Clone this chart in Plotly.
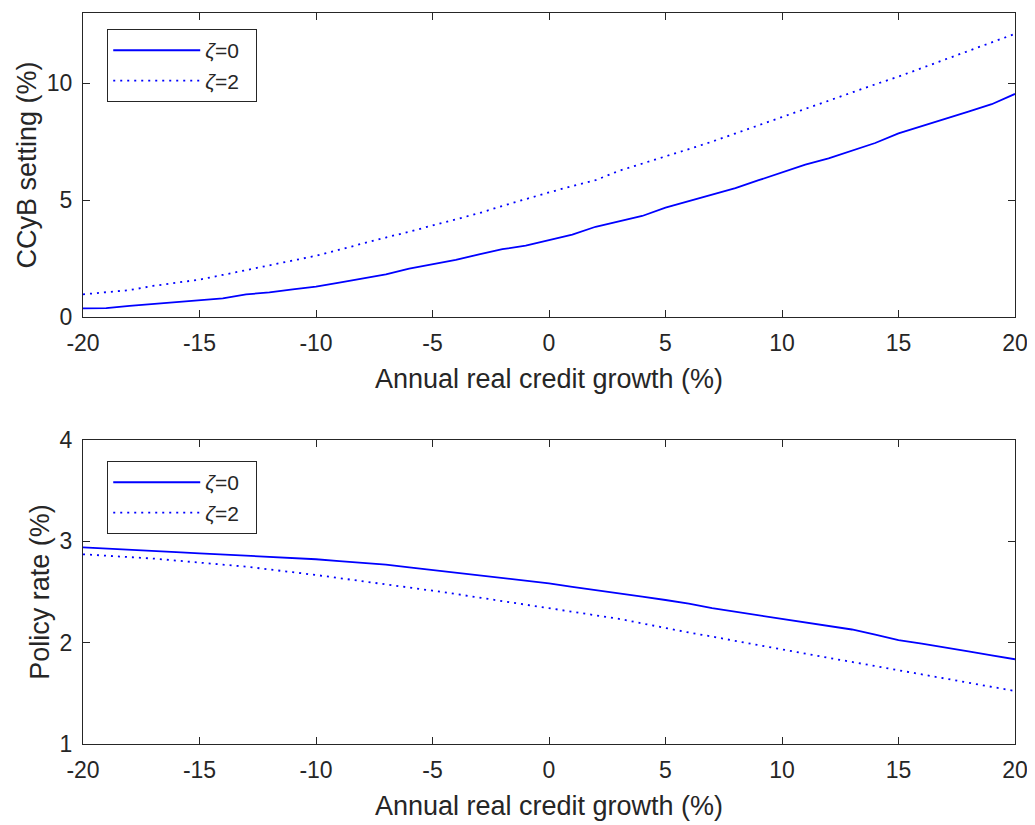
import plotly.graph_objects as go
from plotly.subplots import make_subplots

# ---- data ----
credit_growth = list(range(-20, 21))

ccyb_zeta0 = [0.37, 0.38, 0.48, 0.56, 0.63, 0.70, 0.80, 0.97, 1.05, 1.18,
              1.30, 1.47, 1.65, 1.82, 2.07, 2.24, 2.44, 2.68, 2.90, 3.05,
              3.30, 3.52, 3.86, 4.08, 4.32, 4.68, 4.95, 5.25, 5.51, 5.85,
              6.17, 6.52, 6.78, 7.10, 7.44, 7.85, 8.15, 8.45, 8.78, 9.10, 9.54]
ccyb_zeta2 = [0.97, 1.05, 1.15, 1.33, 1.45, 1.60, 1.80, 2.00, 2.22, 2.40,
              2.62, 2.88, 3.15, 3.40, 3.65, 3.91, 4.18, 4.44, 4.75, 5.05,
              5.33, 5.60, 5.85, 6.25, 6.55, 6.86, 7.18, 7.50, 7.85, 8.20,
              8.57, 8.90, 9.25, 9.60, 9.95, 10.28, 10.65, 11.00, 11.38, 11.75, 12.11]
rate_zeta0 = [2.94, 2.93, 2.92, 2.905, 2.893, 2.882, 2.87, 2.86, 2.85, 2.835,
              2.823, 2.805, 2.788, 2.77, 2.742, 2.717, 2.69, 2.665, 2.64, 2.612,
              2.586, 2.55, 2.52, 2.487, 2.455, 2.421, 2.385, 2.34, 2.305, 2.272,
              2.24, 2.205, 2.168, 2.13, 2.08, 2.026, 1.99, 1.955, 1.915, 1.875, 1.836]
rate_zeta2 = [2.872, 2.86, 2.848, 2.83, 2.81, 2.793, 2.77, 2.75, 2.72, 2.695,
              2.668, 2.638, 2.608, 2.576, 2.545, 2.513, 2.48, 2.445, 2.41, 2.375,
              2.339, 2.30, 2.27, 2.235, 2.19, 2.142, 2.10, 2.06, 2.015, 1.975,
              1.934, 1.89, 1.85, 1.81, 1.77, 1.730, 1.69, 1.647, 1.605, 1.565, 1.523]

series_names = ["<i>ζ</i>=0", "<i>ζ</i>=2"]
x_ticks = [-20, -15, -10, -5, 0, 5, 10, 15, 20]
x_ticklabels = ["-20", "-15", "-10", "-5", "0", "5", "10", "15", "20"]
ccyb_ticks = [0, 5, 10]
rate_ticks = [1, 2, 3, 4]
x_title = "Annual real credit growth (%)"
ccyb_title = "CCyB setting (%)"
rate_title = "Policy rate (%)"

BLUE = "#0000FF"
AX = "#262626"
FONT = "Liberation Sans, Arial, sans-serif"
PAD = "\u00a0\u00a0"  # invisible right padding inside legend box

fig = make_subplots(rows=2, cols=1)

fig.add_trace(go.Scatter(x=credit_growth, y=ccyb_zeta0, mode="lines", name=series_names[0] + PAD,
                         line=dict(color=BLUE, width=1.8), legend="legend"), row=1, col=1)
fig.add_trace(go.Scatter(x=credit_growth, y=ccyb_zeta2, mode="lines", name=series_names[1] + PAD,
                         line=dict(color=BLUE, width=1.8, dash="2px,5px"), legend="legend"), row=1, col=1)
fig.add_trace(go.Scatter(x=credit_growth, y=rate_zeta0, mode="lines", name=series_names[0] + PAD,
                         line=dict(color=BLUE, width=1.8), legend="legend2"), row=2, col=1)
fig.add_trace(go.Scatter(x=credit_growth, y=rate_zeta2, mode="lines", name=series_names[1] + PAD,
                         line=dict(color=BLUE, width=1.8, dash="2px,5px"), legend="legend2"), row=2, col=1)

axis_common = dict(showline=True, linecolor=AX, linewidth=1, mirror="ticks",
                   ticks="inside", ticklen=7, tickcolor=AX, tickwidth=1,
                   showgrid=False, zeroline=False, automargin=False,
                   tickfont=dict(family=FONT, size=23, color=AX))

fig.update_xaxes(**axis_common, range=[-20, 20], tickvals=x_ticks, ticktext=x_ticklabels,
                 ticklabelstandoff=5,
                 title=dict(text=x_title, font=dict(family=FONT, size=27, color=AX), standoff=14))
fig.update_yaxes(**axis_common, ticklabelstandoff=5,
                 title=dict(font=dict(family=FONT, size=27, color=AX), standoff=2))
fig.update_yaxes(range=[0, 13], tickvals=ccyb_ticks, title_text=ccyb_title, row=1, col=1)
fig.update_yaxes(range=[1, 4], tickvals=rate_ticks, title_text=rate_title, row=2, col=1)

fig.update_layout(
    xaxis=dict(domain=[0, 1]),
    xaxis2=dict(domain=[0, 1]),
    yaxis=dict(domain=[0.5841, 1.0]),
    yaxis2=dict(domain=[0.0, 0.4159]),
)

legend_common = dict(bgcolor="white", bordercolor=AX, borderwidth=1,
                     font=dict(family=FONT, size=21, color=AX),
                     xanchor="left", yanchor="top", itemwidth=87,
                     tracegroupgap=0)
fig.update_layout(
    legend=dict(**legend_common, x=0.026, y=0.978, xref="paper", yref="paper"),
    legend2=dict(**legend_common, x=0.026, y=0.387, xref="paper", yref="paper"),
    showlegend=True,
    width=1027, height=817,
    margin=dict(l=75, r=20, t=5, b=81, autoexpand=False),
    plot_bgcolor="white", paper_bgcolor="white",
)

fig.write_html("out.html")
